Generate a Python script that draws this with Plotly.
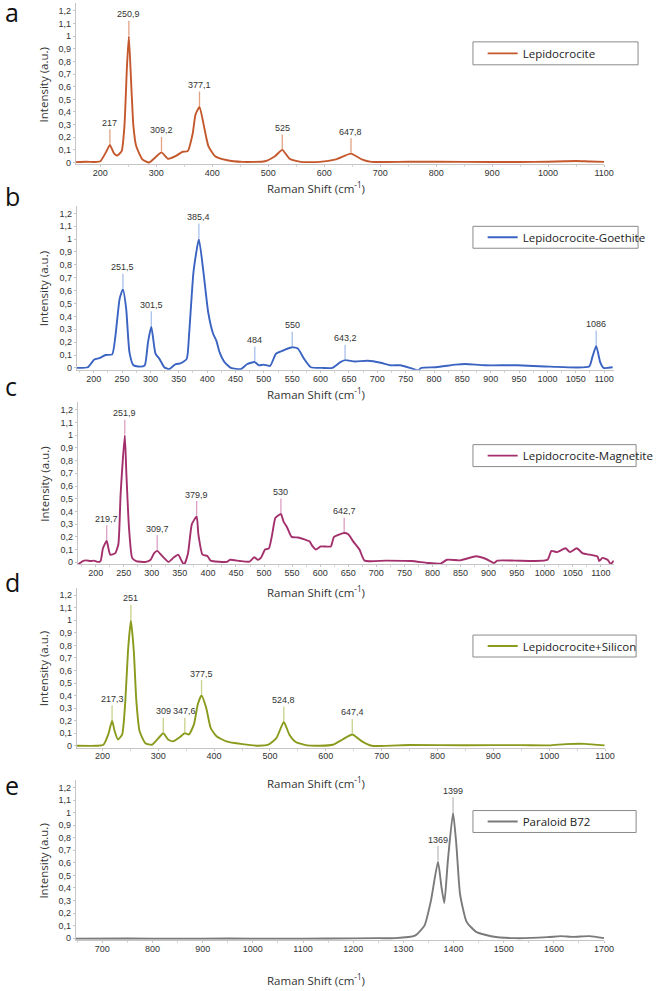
import plotly.graph_objects as go

W, H = 659, 991

# ---------------- data ----------------
a_x = [156, 175, 190, 200, 211, 217, 224, 230, 238, 243,
       247.5, 250.9, 255, 259, 264, 275, 287, 298, 309.2, 321,
       336, 347, 356, 365, 370, 377.1, 385, 393, 405, 425,
       454, 494, 512, 525, 538, 558, 592, 621, 647.8, 667,
       684, 750, 850, 950, 1000, 1030, 1050, 1075, 1100]
a_y = [0.003, 0.006, 0.004, 0.01, 0.09, 0.14, 0.075, 0.055, 0.09, 0.29,
       0.76, 1.0, 0.63, 0.29, 0.13, 0.025, 0.0, 0.04, 0.08, 0.03,
       0.055, 0.085, 0.09, 0.23, 0.38, 0.44, 0.29, 0.13, 0.05, 0.02,
       0.005, 0.01, 0.05, 0.10, 0.03, 0.005, 0.005, 0.025, 0.07, 0.025,
       0.005, 0.006, 0.005, 0.004, 0.006, 0.01, 0.012, 0.008, 0.005]
a_peaks = [217, 250.9, 309.2, 377.1, 525, 647.8]

b_x = [170, 189.5, 201, 209.6, 221, 232.6, 238.3, 245.8, 251.5, 257.2,
       263, 270, 281.4, 290, 295.7, 301.5, 308.9, 315.8, 324.4, 333,
       344.5, 353, 364, 368, 376, 385.4, 393.3, 401.9, 410.5, 416.3,
       422, 430.6, 442, 459.3, 470.8, 484, 491, 499.5, 511, 521.3,
       534, 550, 559.8, 571, 582.7, 603, 620.7, 634.9, 643.2, 660.2,
       683, 706, 723, 740.4, 757.6, 772, 777.7, 803.5, 838, 855,
       890, 947, 1004.6, 1073.5, 1079, 1086, 1093, 1099, 1115]
b_y = [0.0, 0.005, 0.065, 0.075, 0.10, 0.105, 0.25, 0.54, 0.61, 0.46,
       0.12, 0.02, 0.01, 0.02, 0.2, 0.32, 0.11, 0.07, 0.005, -0.01,
       0.03, 0.035, 0.07, 0.25, 0.75, 1.0, 0.75, 0.43, 0.265, 0.21,
       0.12, 0.045, 0.0, -0.01, 0.03, 0.045, 0.02, 0.025, 0.015, 0.11,
       0.135, 0.16, 0.15, 0.07, 0.005, 0.0, 0.0, 0.045, 0.06, 0.05,
       0.055, 0.04, 0.02, 0.02, 0.0, -0.02, 0.0, 0.005, 0.025, 0.03,
       0.02, 0.02, 0.01, 0.01, 0.08, 0.17, 0.045, 0.0, 0.005]
b_peaks = [251.5, 301.5, 385.4, 484, 550, 643.2, 1086]

c_x = [168, 177, 182.7, 191.3, 197, 203, 208.7, 213, 219.7, 221.4,
       226, 234.6, 240.4, 244.4, 251.9, 254.8, 259.4, 265, 272, 289.4,
       298, 303.9, 309.7, 318.3, 329.8, 338.5, 347, 352.9, 357.5, 364.5,
       371.4, 379.9, 383, 390.4, 399, 404.9, 433.7, 439.5, 456.8, 474,
       482.7, 488.5, 494.3, 501.8, 508.7, 514.5, 520.3, 530, 534.7, 540.5,
       549, 560.6, 572.2, 580.8, 586.6, 592.4, 601, 619, 624.6, 642.7,
       650, 658.7, 670, 679, 716.5, 762.6, 791.5, 814.5, 826, 849,
       878, 895.5, 910, 915.5, 947, 981.8, 1005, 1012, 1022, 1037,
       1045, 1057, 1068, 1080, 1094, 1097, 1103, 1112, 1117.5, 1123]
c_y = [-0.02, 0.01, 0.015, 0.01, 0.013, 0.003, 0.01, 0.11, 0.17, 0.14,
       0.06, 0.07, 0.14, 0.53, 1.0, 0.69, 0.27, 0.035, 0.01, 0.003,
       0.02, 0.07, 0.09, 0.05, 0.003, 0.035, 0.06, 0.013, -0.02, 0.07,
       0.30, 0.36, 0.22, 0.06, 0.05, 0.013, 0.003, 0.02, 0.01, 0.005,
       0.04, 0.02, 0.035, 0.10, 0.11, 0.22, 0.35, 0.38, 0.32, 0.28,
       0.20, 0.195, 0.18, 0.165, 0.125, 0.10, 0.125, 0.125, 0.20, 0.23,
       0.22, 0.165, 0.10, 0.013, 0.013, 0.01, -0.005, -0.01, 0.02, 0.015,
       0.047, 0.026, -0.005, 0.013, 0.013, 0.01, 0.02, 0.09, 0.08, 0.11,
       0.08, 0.11, 0.07, 0.06, 0.045, 0.01, 0.035, 0.02, -0.013, 0.013]
c_peaks = [219.7, 251.9, 309.7, 379.9, 530, 642.7]

d_x = [154, 190, 201.8, 210.5, 217.3, 222, 227.8, 235.4, 241, 245.8,
       251, 256.2, 260.8, 266.6, 277, 288.6, 300.2, 309, 317.6, 326.3,
       337.8, 347.6, 355, 363.9, 370.8, 377.5, 385.9, 394, 404.4, 421.8,
       450.7, 479.6, 497, 511.5, 524.8, 534.6, 546.2, 566.5, 589.6, 612.8,
       630, 647.4, 664.9, 682.2, 750, 850, 950, 1000, 1029.5, 1064,
       1099]
d_y = [0.0, 0.0, 0.008, 0.09, 0.20, 0.115, 0.05, 0.09, 0.355, 0.755,
       1.0, 0.755, 0.355, 0.115, 0.02, 0.008, 0.06, 0.10, 0.05, 0.035,
       0.065, 0.10, 0.09, 0.17, 0.33, 0.40, 0.30, 0.14, 0.075, 0.035,
       0.013, 0.0, 0.008, 0.06, 0.19, 0.09, 0.03, 0.003, 0.0, 0.008,
       0.05, 0.09, 0.035, 0.0, 0.006, 0.004, 0.005, 0.003, 0.013, 0.015,
       0.003]
d_peaks = [217.3, 251, 309, 347.6, 377.5, 524.8, 647.4]

e_x = [647, 750, 850, 950, 1050, 1150, 1250, 1284, 1323, 1342,
       1355, 1369, 1376, 1381.6, 1388.7, 1399, 1405.5, 1413, 1426, 1445,
       1477.7, 1522.9, 1587, 1613, 1639, 1671, 1700]
e_y = [-0.004, -0.003, -0.004, -0.003, -0.004, -0.003, 0.0, 0.0, 0.02, 0.10,
       0.30, 0.61, 0.405, 0.28, 0.62, 1.0, 0.75, 0.35, 0.13, 0.05,
       0.013, 0.0, 0.008, 0.016, 0.01, 0.016, 0.0]
e_peaks = [1369, 1399]

series_names = ["Lepidocrocite", "Lepidocrocite-Goethite", "Lepidocrocite-Magnetite",
                "Lepidocrocite+Silicon", "Paraloid B72"]
panel_letters = ["a", "b", "c", "d", "e"]
y_tick_vals = [0, 0.1, 0.2, 0.3, 0.4, 0.5, 0.6, 0.7, 0.8, 0.9, 1.0, 1.1, 1.2]
y_tick_labels = ["0", "0,1", "0,2", "0,3", "0,4", "0,5", "0,6", "0,7", "0,8", "0,9", "1", "1,1", "1,2"]
x_title = "Raman Shift (cm<sup>-1</sup>)"
y_title = "Intensity (a.u.)"

# ---------------- styling / layout ----------------
colors = ["#C4582C", "#3A63C2", "#A3306C", "#8A9A1C", "#7A7A7A"]
ann_colors = ["#E3A283", "#A9C1EC", "#DDA0C2", "#C9D08A", "#BDBDBD"]
geom = [
    dict(y0=163, y12=11, xl=78, xr=622, xr_=[156, 1100], dt=100),
    dict(y0=369, y12=214, xl=79, xr=632, xr_=[170, 1117], dt=50),
    dict(y0=564, y12=411, xl=80, xr=632, xr_=[168, 1123], dt=50),
    dict(y0=748, y12=597, xl=79, xr=623, xr_=[154, 1100], dt=100),
    dict(y0=941, y12=790, xl=78, xr=622, xr_=[647, 1700], dt=100),
]
legend_box = [(42, 65, 487, 657), (227, 249, 487, 657), (446, 468, 487, 655),
              (637, 659, 487, 655), (813, 835, 487, 655)]
xtitle_py = [188, 395, 593, 785, 982]
letter_py = [12, 197, 387, 584, 787]
YLO, YHI = -0.015, 1.26

data = [(a_x, a_y, a_peaks), (b_x, b_y, b_peaks), (c_x, c_y, c_peaks),
        (d_x, d_y, d_peaks), (e_x, e_y, e_peaks)]

tick_font = dict(family="Liberation Sans", size=9, color="#333333")
title_font = dict(family="Open Sans", size=11.5, color="#333333")

fig = go.Figure()
annotations = []
shapes = []
layout = {}


def fmt(v):
    return ("%g" % v).replace(".", ",")


for i, ((xs, ys, peaks), g) in enumerate(zip(data, geom)):
    assert len(xs) == len(ys)
    n = "" if i == 0 else str(i + 1)
    scale = (g["y0"] - g["y12"]) / 1.2
    top_px = g["y12"] - (YHI - 1.2) * scale
    bot_px = g["y0"] + (0 - YLO) * scale
    ydom = [1 - bot_px / H, 1 - top_px / H]
    xdom = [g["xl"] / W, g["xr"] / W]

    fig.add_trace(go.Scatter(
        x=xs, y=ys, mode="lines", name=series_names[i],
        line=dict(color=colors[i], width=1.9, shape="spline", smoothing=0.5),
        xaxis="x" + n, yaxis="y" + n, legend="legend" + n, hoverinfo="skip"))

    layout["xaxis" + n] = dict(
        domain=xdom, range=g["xr_"], anchor="y" + n, showline=True, linecolor="#c6c6c6",
        linewidth=1, ticks="outside", ticklen=2, tickcolor="#c6c6c6", tick0=0, dtick=g["dt"],
        tickfont=tick_font, showgrid=False, zeroline=False, ticklabelstandoff=-2,
        minor=dict(ticks="outside", ticklen=2, tickcolor="#d6d6d6", dtick=g["dt"] / 2))
    layout["yaxis" + n] = dict(
        domain=ydom, range=[YLO, YHI], anchor="x" + n, showline=True, linecolor="#c6c6c6",
        linewidth=1, ticks="outside", ticklen=2, tickcolor="#c6c6c6",
        tickvals=y_tick_vals, ticktext=y_tick_labels, tickfont=tick_font,
        showgrid=False, zeroline=False)

    b = legend_box[i]
    shapes.append(dict(type="rect", xref="paper", yref="paper",
                       x0=b[2] / W, x1=b[3] / W, y0=1 - b[1] / H, y1=1 - b[0] / H,
                       line=dict(color="#8a8a8a", width=1), fillcolor="rgba(0,0,0,0)"))
    layout["legend" + n] = dict(
        x=(b[2] + 10) / W, y=1 - ((b[0] + b[1]) / 2) / H, xanchor="left", yanchor="middle",
        bgcolor="rgba(0,0,0,0)", borderwidth=0,
        font=dict(family="Open Sans", size=11.5, color="#222222"), itemwidth=30)

    for p in peaks:
        h = ys[xs.index(p)]
        annotations.append(dict(
            x=p, y=h, xref="x" + n, yref="y" + n, text=fmt(p), showarrow=True,
            arrowhead=0, arrowwidth=1.3, arrowcolor=ann_colors[i], ax=0, ay=-22,
            standoff=1, font=dict(family="Liberation Sans", size=9, color="#333333")))

    annotations.append(dict(
        x=325 / W, y=1 - xtitle_py[i] / H, xref="paper", yref="paper", text=x_title,
        showarrow=False, xanchor="center", yanchor="middle", font=title_font))
    annotations.append(dict(
        x=45 / W, y=1 - ((g["y0"] + g["y12"]) / 2 - 2) / H, xref="paper", yref="paper",
        text=y_title, textangle=-90, showarrow=False, xanchor="center", yanchor="middle",
        font=title_font))
    annotations.append(dict(
        x=3 / W, y=1 - letter_py[i] / H, xref="paper", yref="paper", text=panel_letters[i],
        showarrow=False, xanchor="left", yanchor="middle",
        font=dict(family="Open Sans", size=25, color="#111111")))

fig.update_layout(
    width=W, height=H, autosize=False,
    margin=dict(l=0, r=0, t=0, b=0),
    paper_bgcolor="white", plot_bgcolor="white",
    showlegend=True, annotations=annotations, shapes=shapes, **layout)

post = ("document.documentElement.style.margin='0';document.body.style.margin='0';"
        "document.body.style.padding='0';document.documentElement.style.overflow='hidden';"
        "var gd=document.getElementById('{plot_id}');"
        "Plotly.relayout(gd,{width:%d,height:%d,autosize:false});" % (W, H))
fig.write_html("out.html", config={"responsive": False, "displayModeBar": False},
               post_script=post)
